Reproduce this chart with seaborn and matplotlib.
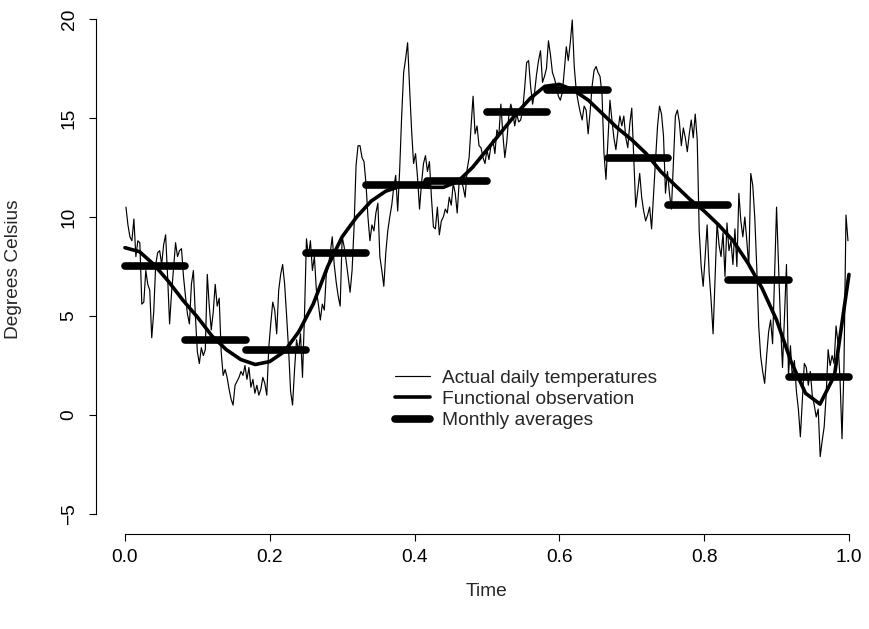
import numpy as np
import pandas as pd
import matplotlib
matplotlib.use("Agg")
import matplotlib.pyplot as plt
import seaborn as sns
from matplotlib.lines import Line2D

# ---- daily temperatures, month by month ----
jan = [10.5, 9.6, 9.0, 8.8, 9.9, 8.0, 8.8, 8.7, 5.6, 5.7, 7.3, 6.6, 6.3, 3.9, 5.2, 7.6,
       8.2, 8.3, 7.6, 8.6, 9.1, 7.0, 4.6, 6.2, 7.4, 8.7, 8.0, 8.3, 8.4, 7.0, 6.0]
feb = [5.1, 4.6, 6.6, 7.3, 5.0, 3.2, 2.6, 3.4, 3.0, 3.3, 7.1, 5.5, 4.3, 5.2, 6.6, 5.5,
       5.9, 3.2, 2.0, 2.3, 1.9, 1.3, 0.8, 0.5, 1.5, 1.7, 1.9, 2.2]
mar = [2.0, 2.5, 1.8, 2.4, 1.4, 1.8, 1.1, 1.5, 1.0, 1.3, 1.9, 1.6, 1.0, 3.4, 4.6, 5.7,
       5.3, 4.1, 6.3, 7.1, 7.6, 6.6, 5.0, 3.3, 1.2, 0.5, 2.3, 3.8, 3.2, 4.1, 1.9]
apr = [5.0, 8.9, 8.0, 8.8, 7.3, 8.0, 6.3, 5.6, 4.8, 5.6, 5.3, 7.1, 7.5, 8.2, 9.0, 7.6,
       6.7, 6.0, 5.5, 9.0, 8.5, 7.8, 7.0, 6.2, 7.3, 9.5, 12.6, 13.6, 13.6, 13.0]
may = [12.8, 11.7, 10.0, 8.8, 9.6, 9.3, 10.2, 10.7, 8.0, 7.3, 6.5, 8.2, 9.3, 10.0, 10.6,
       11.5, 12.1, 10.3, 12.4, 15.1, 17.3, 18.0, 18.8, 16.5, 14.4, 12.7, 13.2, 12.0, 10.4,
       11.7, 12.7]
jun = [13.1, 12.3, 12.8, 11.0, 9.5, 9.4, 10.5, 9.1, 9.8, 10.0, 10.4, 10.2, 11.0, 10.6,
       11.7, 11.2, 10.2, 11.8, 11.9, 11.5, 11.0, 12.4, 13.0, 14.6, 16.1, 14.2, 14.6, 13.6,
       13.5, 13.0]
jul = [12.7, 13.4, 12.9, 13.6, 13.9, 13.2, 14.4, 14.1, 15.7, 14.2, 13.0, 13.8, 15.1, 15.7,
       15.3, 14.6, 15.2, 14.8, 14.9, 15.4, 16.5, 17.8, 17.9, 16.6, 15.7, 16.3, 17.2, 17.9,
       18.4, 16.8, 17.1]
aug = [17.5, 18.9, 18.2, 17.3, 17.0, 16.6, 16.1, 15.9, 16.3, 17.4, 18.6, 17.9, 18.8, 19.95,
       17.6, 16.4, 15.8, 15.3, 14.9, 15.6, 15.4, 14.2, 15.3, 16.6, 17.4, 17.6, 17.3, 17.1,
       16.2, 13.2, 11.9]
sep = [13.9, 15.9, 14.9, 14.0, 13.4, 14.3, 15.1, 14.6, 15.1, 14.0, 13.5, 14.7, 15.5, 13.0,
       10.5, 11.3, 12.2, 11.0, 10.3, 9.8, 10.1, 10.5, 9.4, 11.2, 12.9, 14.6, 15.6, 15.2,
       14.1, 11.2]
oct_ = [12.3, 11.2, 10.4, 12.8, 15.1, 15.4, 14.8, 13.6, 14.5, 14.0, 13.3, 14.2, 14.9, 14.0,
        15.2, 13.9, 9.3, 7.5, 6.5, 8.0, 9.6, 7.2, 5.8, 4.1, 6.9, 9.7, 8.6, 8.0, 9.2, 7.0, 9.7]
nov = [8.3, 8.8, 7.6, 9.4, 7.5, 11.2, 9.8, 9.0, 10.0, 8.8, 7.5, 12.2, 11.6, 10.0, 7.5, 4.5,
       2.95, 2.2, 1.6, 3.0, 4.2, 4.8, 3.6, 7.0, 10.5, 7.6, 4.6, 2.4, 5.0, 7.6]
dec = [2.0, 3.5, 1.8, 2.75, 1.2, 0.3, -1.1, 0.8, 2.6, 2.4, 1.5, 2.2, 1.0, 0.5, -0.1, 0.3,
       -2.1, -1.3, -0.6, 1.0, 3.3, 2.5, 3.0, 2.6, 4.5, 3.6, 1.8, -1.2, 2.5, 10.1, 8.8]
daily_temps = jan + feb + mar + apr + may + jun + jul + aug + sep + oct_ + nov + dec

# ---- functional observation (smooth curve) read at t = 0, 0.02, ..., 1 ----
curve_t = [0.00, 0.02, 0.04, 0.06, 0.08, 0.10, 0.12, 0.14, 0.16, 0.18, 0.20, 0.22, 0.24,
           0.26, 0.28, 0.30, 0.32, 0.34, 0.36, 0.38, 0.40, 0.42, 0.44, 0.46, 0.48, 0.50,
           0.52, 0.54, 0.56, 0.58, 0.60, 0.62, 0.64, 0.66, 0.68, 0.70, 0.72, 0.74, 0.76,
           0.78, 0.80, 0.82, 0.84, 0.86, 0.88, 0.90, 0.92, 0.94, 0.96, 0.98, 1.00]
curve_vals = [8.45, 8.25, 7.6, 6.75, 5.8, 4.95, 4.0, 3.3, 2.8, 2.55, 2.7, 3.2, 4.2,
              5.6, 7.5, 9.0, 10.0, 10.8, 11.3, 11.55, 11.6, 11.5, 11.5, 11.8, 12.5, 13.4,
              14.3, 15.2, 16.0, 16.6, 16.7, 16.4, 15.9, 15.2, 14.5, 13.9, 13.2, 12.3, 11.6,
              10.9, 10.3, 9.6, 8.8, 7.7, 6.4, 4.8, 2.7, 1.1, 0.55, 2.0, 7.1]

# ---- monthly averages ----
monthly_avgs = [7.5, 3.8, 3.3, 8.2, 11.6, 11.8, 15.3, 16.4, 13.0, 10.6, 6.8, 1.9]

x_ticks = [0.0, 0.2, 0.4, 0.6, 0.8, 1.0]
x_tick_labels = ["0.0", "0.2", "0.4", "0.6", "0.8", "1.0"]
y_ticks = [-5, 0, 5, 10, 15, 20]
y_tick_labels = ["\u22125", "0", "5", "10", "15", "20"]
legend_labels = ["Actual daily temperatures", "Functional observation", "Monthly averages"]

sns.set_theme(style="ticks")
plt.rcParams['font.family'] = ['Liberation Sans', 'DejaVu Sans']

FS = 13.8
fig = plt.figure(figsize=(8.69, 6.29), dpi=100)
fig.patch.set_facecolor("white")
ax = fig.add_axes([96.0 / 869, (629 - 533.8) / 629, (869 - 96.0) / 869, 534.6 / 629])
ax.set_facecolor("white")

n = len(daily_temps)
df_daily = pd.DataFrame({"t": (np.arange(n) + 0.5) / n, "temp": daily_temps})
sns.lineplot(data=df_daily, x="t", y="temp", ax=ax, color="black", linewidth=0.85,
             estimator=None, sort=False)

df_curve = pd.DataFrame({"t": curve_t, "v": curve_vals})
sns.lineplot(data=df_curve, x="t", y="v", ax=ax, color="black", linewidth=2.6,
             estimator=None, sort=False, solid_capstyle="round", solid_joinstyle="round")

starts = np.arange(len(monthly_avgs)) / len(monthly_avgs)
ends = starts + 1.0 / len(monthly_avgs)
lc = ax.hlines(monthly_avgs, starts, ends, colors="black", linewidth=5.5)
lc.set_capstyle("round")

ax.set_xlim(-0.04, -0.04 + 773.0 / 724.0)
ax.set_ylim(-6, 21)

for s in ["top", "right"]:
    ax.spines[s].set_visible(False)
ax.spines["left"].set_bounds(-5, 20)
ax.spines["bottom"].set_bounds(0, 1)
ax.spines["left"].set_color("black")
ax.spines["bottom"].set_color("black")
ax.spines["left"].set_linewidth(0.8)
ax.spines["bottom"].set_linewidth(0.8)

ax.set_xticks(x_ticks)
ax.set_xticklabels(x_tick_labels)
ax.set_yticks(y_ticks)
ax.set_yticklabels(y_tick_labels, rotation=90, va="center")
ax.tick_params(axis="both", direction="out", length=5.2, width=0.8, colors="black",
               labelsize=FS)
ax.tick_params(axis="x", pad=6)
ax.tick_params(axis="y", pad=8)

ax.set_xlabel("Time", fontsize=FS, va="center")
ax.xaxis.set_label_coords((0.5 + 0.04) / (773.0 / 724.0), (533.8 - 592) / 534.6)
ax.set_ylabel("Degrees Celsius", fontsize=FS, va="center")
ax.yaxis.set_label_coords((14 - 96.0) / 773.0, (533.8 - 269) / 534.6)

handles = [Line2D([], [], color="black", lw=0.85),
           Line2D([], [], color="black", lw=2.6, solid_capstyle="round"),
           Line2D([], [], color="black", lw=5.5, solid_capstyle="round")]
ax.legend(handles, legend_labels, loc="upper left", bbox_to_anchor=(0.373, 2.3),
          bbox_transform=ax.transData, frameon=False, fontsize=FS, borderpad=0,
          borderaxespad=0, handlelength=1.85, handletextpad=0.6, labelspacing=0.2)

fig.savefig("out.png", dpi=100, facecolor="white")
